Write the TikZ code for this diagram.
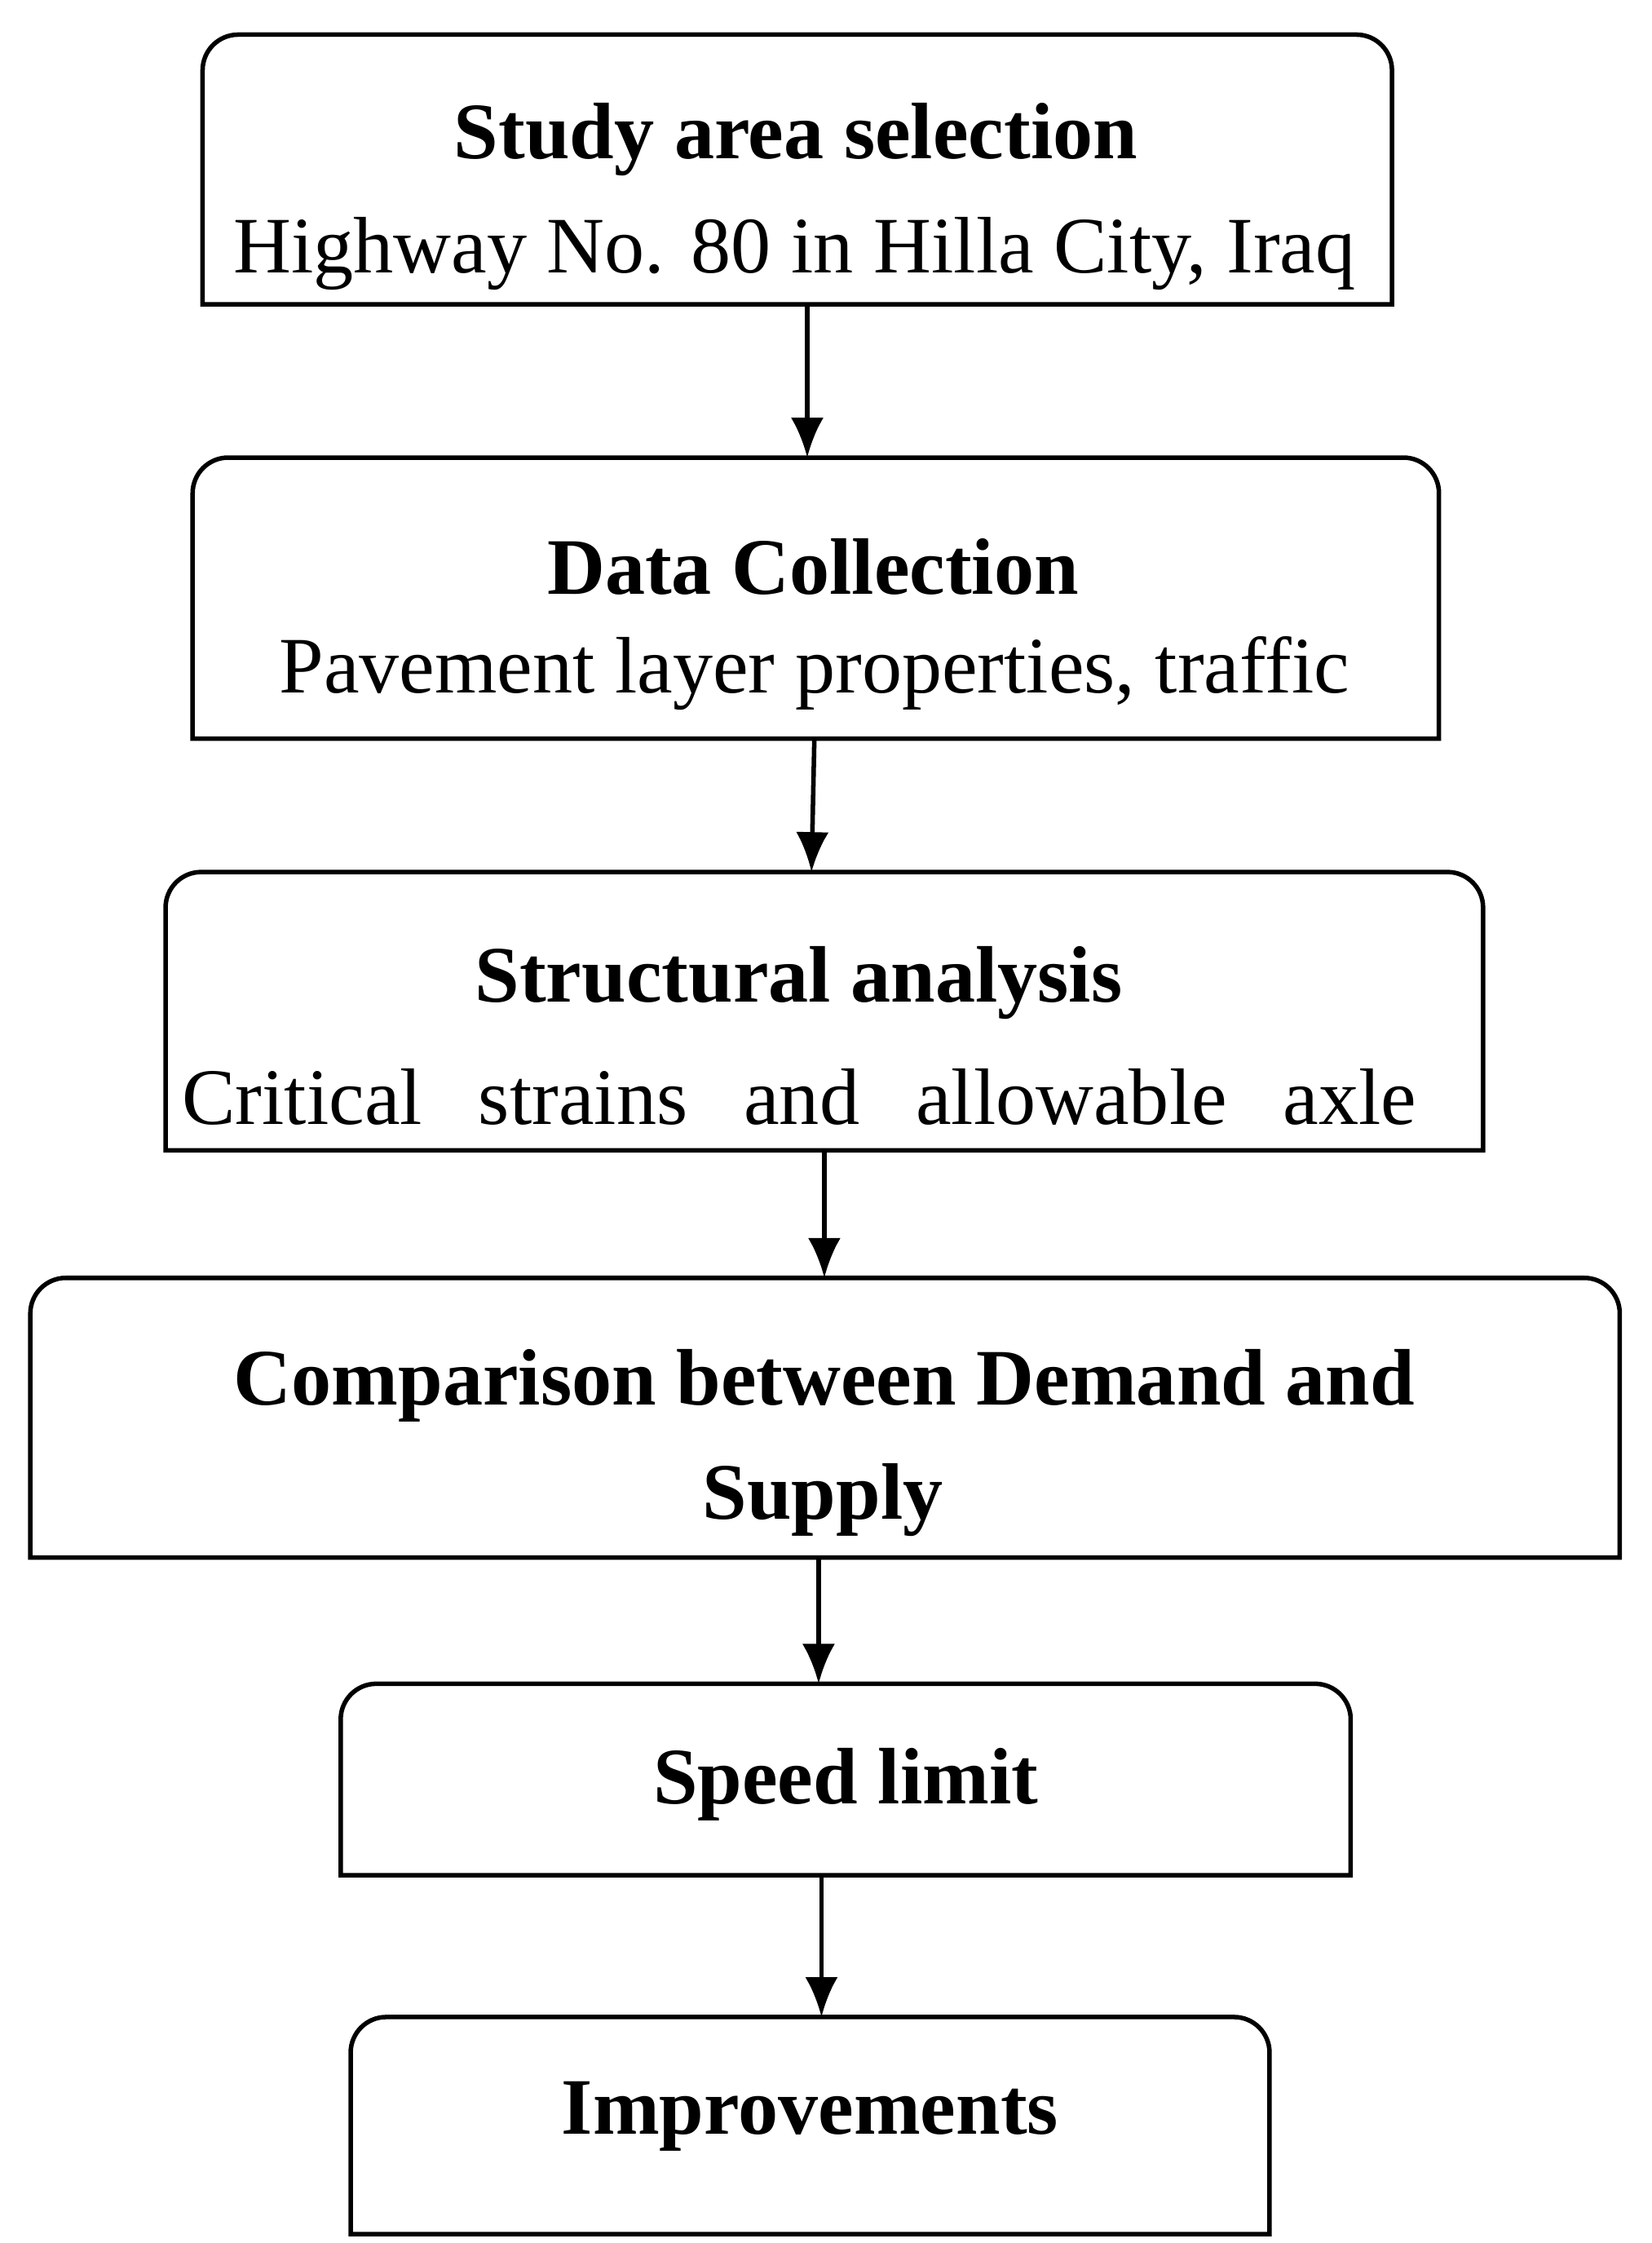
\documentclass[tikz,border=0pt]{standalone}
\usepackage{fontspec}
\setmainfont{Liberation Serif}
\usetikzlibrary{arrows.meta}
\tikzset{
  box/.style={draw=none, minimum width=#1, inner sep=0pt},
  txt/.style={font=\fontsize{16}{19}\selectfont, inner sep=0pt},
  btxt/.style={font=\fontsize{16}{19}\selectfont\bfseries, inner sep=0pt},
  flow/.style={line width=0.9pt, -{Latex[length=2.8mm,width=2.3mm]}}
}
\newcommand{\roundtop}[1]{%
  \draw[line width=0.9pt] (#1.south west) [rounded corners=0.25cm]-- (#1.north west) -- (#1.north east) [sharp corners]-- (#1.south east) -- cycle;}
\begin{document}
\begin{tikzpicture}
\useasboundingbox (0,0) rectangle (11.6,-15.75);

\node[box=8.34cm, minimum height=1.88cm] (b1) at (5.60,-1.19) {};
\node[box=8.74cm, minimum height=1.96cm] (b2) at (5.73,-4.20) {};
\node[box=9.24cm, minimum height=1.94cm] (b3) at (5.79,-7.10) {};
\node[box=11.15cm, minimum height=1.95cm] (b4) at (5.795,-9.955) {};
\node[box=7.08cm, minimum height=1.33cm] (b5) at (5.94,-12.495) {};
\node[box=6.44cm, minimum height=1.51cm] (b6) at (5.69,-14.925) {};
\foreach \b in {b1,b2,b3,b4,b5,b6} {\roundtop{\b}}

\node[btxt] (t1) at (5.59,-0.98) {Study area selection};
\node[txt] (s1) at (5.58,-1.78) {Highway No. 80 in Hilla City, Iraq};
\node[btxt] (t2) at (5.71,-3.98) {Data Collection};
\node[txt] (s2) at (5.72,-4.73) {Pavement layer properties, traffic};
\node[btxt] (t3) at (5.61,-6.90) {Structural analysis};
\node[txt] (s3) at (5.615,-7.70) {\makebox[8.67cm]{Critical\hfill strains\hfill and\hfill allowable\hfill axle}};
\node[btxt] (t4) at (5.79,-9.73) {Comparison between Demand and};
\node[btxt] (t4b) at (5.78,-10.53) {Supply};
\node[btxt] (t5) at (5.94,-12.53) {Speed limit};
\node[btxt] (t6) at (5.69,-14.86) {Improvements};

% connectors
\draw[flow] (b1.south -| 5.67,0) -- (b2.north -| 5.67,0);
\draw[flow] (b2.south -| 5.72,0) -- (b3.north -| 5.70,0);
\draw[flow] (b3.south -| 5.79,0) -- (b4.north -| 5.79,0);
\draw[flow] (b4.south -| 5.75,0) -- (b5.north -| 5.75,0);
\draw[flow] (b5.south -| 5.77,0) -- (b6.north -| 5.77,0);
\end{tikzpicture}
\end{document}
